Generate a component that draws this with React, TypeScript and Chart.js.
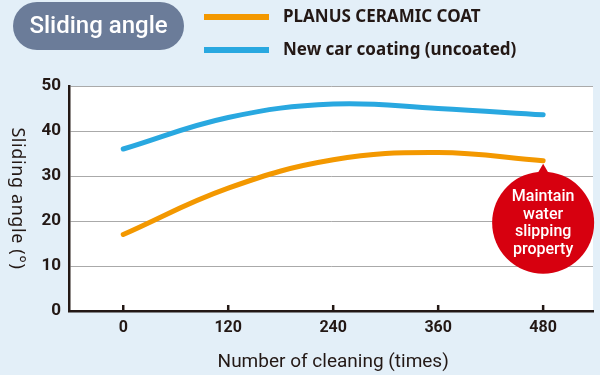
import React, { useEffect, useRef } from "react";
import { Chart, registerables } from "chart.js";

Chart.register(...registerables);

const cleaningCounts = [0, 120, 240, 360, 480];
const planusValues = [17, 27.3, 33.6, 35.2, 33.4];
const newCarValues = [36, 43, 46, 45, 43.6];
const yTickValues = [0, 10, 20, 30, 40, 50];
const seriesLabels = ["PLANUS CERAMIC COAT", "New car coating (uncoated)"];
const seriesColors = ["#f39800", "#29a8e0"];
const panelTitle = "Sliding angle";
const xAxisTitle = "Number of cleaning (times)";
const yAxisTitle = "Sliding angle (°)";
const calloutLines = ["Maintain", "water", "slipping", "property"];

const BG = "#e3eff8";
const INK = "#231815";

const decoPlugin = {
  id: "deco",
  beforeDraw(chart: any) {
    const { ctx, chartArea: a } = chart;
    ctx.save();
    ctx.fillStyle = BG;
    ctx.fillRect(0, 0, chart.width, chart.height);
    ctx.fillStyle = "#ffffff";
    ctx.fillRect(a.left, a.top, a.right - a.left, a.bottom - a.top);
    ctx.restore();
  },
  afterDraw(chart: any) {
    const { ctx, chartArea: a } = chart;
    const xs = chart.scales.x;
    const ys = chart.scales.y;
    ctx.save();

    // title pill
    const px = 13, py = 2, pw = 171, ph = 48, r = 24;
    ctx.fillStyle = "#6b7c99";
    ctx.beginPath();
    ctx.moveTo(px + r, py);
    ctx.lineTo(px + pw - r, py);
    ctx.arc(px + pw - r, py + r, r, -Math.PI / 2, Math.PI / 2);
    ctx.lineTo(px + r, py + ph);
    ctx.arc(px + r, py + r, r, Math.PI / 2, (3 * Math.PI) / 2);
    ctx.closePath();
    ctx.fill();
    ctx.fillStyle = "#ffffff";
    ctx.font = "500 24px Roboto";
    ctx.textAlign = "center";
    ctx.textBaseline = "middle";
    ctx.fillText(panelTitle, px + pw / 2, py + ph / 2 + 1);

    // legend
    const legendY = [17, 50];
    seriesLabels.forEach((lab, i) => {
      ctx.strokeStyle = seriesColors[i];
      ctx.lineWidth = 6;
      ctx.lineCap = "butt";
      ctx.beginPath();
      ctx.moveTo(204, legendY[i]);
      ctx.lineTo(269, legendY[i]);
      ctx.stroke();
      ctx.fillStyle = INK;
      ctx.font = "bold 17px 'Noto Sans'";
      ctx.textAlign = "left";
      ctx.textBaseline = "middle";
      ctx.fillText(lab, 283, legendY[i]);
    });

    // x tick marks (inward)
    ctx.strokeStyle = INK;
    ctx.lineWidth = 2.5;
    cleaningCounts.forEach((v) => {
      const x = xs.getPixelForValue(v);
      ctx.beginPath();
      ctx.moveTo(x, a.bottom);
      ctx.lineTo(x, a.bottom - 6);
      ctx.stroke();
    });

    // axis titles
    ctx.fillStyle = INK;
    ctx.font = "19px Roboto";
    ctx.textAlign = "center";
    ctx.textBaseline = "middle";
    ctx.fillText(xAxisTitle, (xs.getPixelForValue(0) + xs.getPixelForValue(480)) / 2, 362);

    ctx.save();
    ctx.translate(17, (a.top + a.bottom) / 2);
    ctx.rotate(Math.PI / 2);
    ctx.font = "18px 'Noto Sans'";
    try { (ctx as any).letterSpacing = "0.6px"; } catch (e) {}
    ctx.fillText(yAxisTitle, 0, 0);
    ctx.restore();

    // callout
    const lastX = xs.getPixelForValue(cleaningCounts[cleaningCounts.length - 1]);
    const lastY = ys.getPixelForValue(planusValues[planusValues.length - 1]);
    const cx = lastX, cy = lastY + 62, cr = 51;
    ctx.fillStyle = "#d7000f";
    ctx.beginPath();
    ctx.arc(cx, cy, cr, 0, Math.PI * 2);
    ctx.fill();
    ctx.beginPath();
    ctx.moveTo(cx, lastY + 3);
    ctx.lineTo(cx - 7, cy - cr + 4);
    ctx.lineTo(cx + 7, cy - cr + 4);
    ctx.closePath();
    ctx.fill();
    ctx.fillStyle = "#ffffff";
    ctx.font = "500 16px Roboto";
    ctx.textAlign = "center";
    ctx.textBaseline = "middle";
    calloutLines.forEach((t, i) => {
      ctx.fillText(t, cx, cy - 26 + i * 17.8);
    });

    ctx.restore();
  },
};

export default function App() {
  const ref = useRef<HTMLCanvasElement | null>(null);
  useEffect(() => {
    document.body.style.margin = "0";
    const canvas = ref.current;
    if (!canvas) return;
    const chart = new Chart(canvas, {
      type: "line",
      data: {
        datasets: [
          {
            label: seriesLabels[0],
            data: cleaningCounts.map((x, i) => ({ x, y: planusValues[i] })),
            borderColor: seriesColors[0],
            borderWidth: 5,
            pointRadius: 0,
            tension: 0.4,
            borderCapStyle: "round",
            fill: false,
          },
          {
            label: seriesLabels[1],
            data: cleaningCounts.map((x, i) => ({ x, y: newCarValues[i] })),
            borderColor: seriesColors[1],
            borderWidth: 5,
            pointRadius: 0,
            tension: 0.4,
            borderCapStyle: "round",
            fill: false,
          },
        ],
      },
      options: {
        responsive: false,
        animation: false,
        layout: { padding: { left: 0, right: 7, top: 86, bottom: 0 } },
        plugins: { legend: { display: false }, tooltip: { enabled: false } },
        scales: {
          x: {
            type: "linear",
            min: -62,
            max: 537,
            afterBuildTicks: (s: any) => {
              s.ticks = cleaningCounts.map((v) => ({ value: v }));
            },
            afterFit: (s: any) => {
              s.height = 64;
            },
            grid: { display: false, drawTicks: false },
            border: { display: true, color: INK, width: 2.5 },
            ticks: {
              color: INK,
              font: { family: "Roboto", weight: "bold", size: 16 },
              padding: 7,
              maxRotation: 0,
              autoSkip: false,
              callback: (v: any) => String(v),
            },
          },
          y: {
            min: 0,
            max: 50,
            afterBuildTicks: (s: any) => {
              s.ticks = yTickValues.map((v) => ({ value: v }));
            },
            afterFit: (s: any) => {
              s.width = 69;
            },
            grid: { color: "#aaaaaa", lineWidth: 1, drawTicks: false },
            border: { display: true, color: INK, width: 2.5 },
            ticks: {
              color: INK,
              font: { family: "Roboto", weight: "bold", size: 17 },
              padding: 8,
              callback: (v: any) => String(v),
            },
          },
        },
      },
      plugins: [decoPlugin],
    });
    return () => chart.destroy();
  }, []);
  return (
    <div style={{ width: 600, height: 375 }}>
      <canvas ref={ref} width={600} height={375} style={{ display: "block" }} />
    </div>
  );
}
